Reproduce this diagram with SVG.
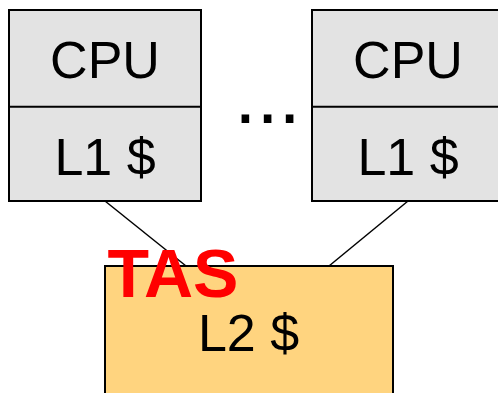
<svg xmlns="http://www.w3.org/2000/svg" width="498" height="393" viewBox="0 0 498 393">
  <style>
    .box { stroke: #000; stroke-width: 2; }
    .cpu { fill: #E3E3E3; }
    .l2 { fill: #FFD47F; }
    .lbl { font-family: "Liberation Sans", Arial, sans-serif; font-size: 52px; fill: #000; text-anchor: middle; }
    .conn { stroke: #000; stroke-width: 1.5; fill: none; }
    .tas { font-family: "Liberation Sans", Arial, sans-serif; font-size: 68px; font-weight: bold; fill: #FF0000; }
  </style>
  <rect width="498" height="393" fill="#FFFFFF"/>
  <g id="connectors">
    <line class="conn" x1="105" y1="201" x2="186" y2="266"/>
    <line class="conn" x1="408" y1="201" x2="329" y2="266"/>
  </g>
  <g id="cpu1">
    <rect class="box cpu" x="9" y="10" width="192" height="191"/>
    <line class="box" x1="9" y1="106.7" x2="201" y2="106.7"/>
    <text class="lbl" x="105" y="77.5">CPU</text>
    <text class="lbl" x="105" y="175">L1 $</text>
  </g>
  <g id="ellipsis">
    <text x="267.5" y="123.3" font-family="Liberation Sans, Arial, sans-serif" font-size="80" text-anchor="middle" fill="#000">...</text>
  </g>
  <g id="cpu2">
    <rect class="box cpu" x="312" y="10" width="192" height="191"/>
    <line class="box" x1="312" y1="106.7" x2="504" y2="106.7"/>
    <text class="lbl" x="408" y="77.5">CPU</text>
    <text class="lbl" x="408" y="175">L1 $</text>
  </g>
  <g id="l2">
    <rect class="box l2" x="105" y="266" width="288" height="140"/>
    <text class="lbl" x="248.5" y="350.7">L2 $</text>
  </g>
  <g id="tas">
    <text class="tas" x="107.5" y="296.7">TAS</text>
  </g>
</svg>
